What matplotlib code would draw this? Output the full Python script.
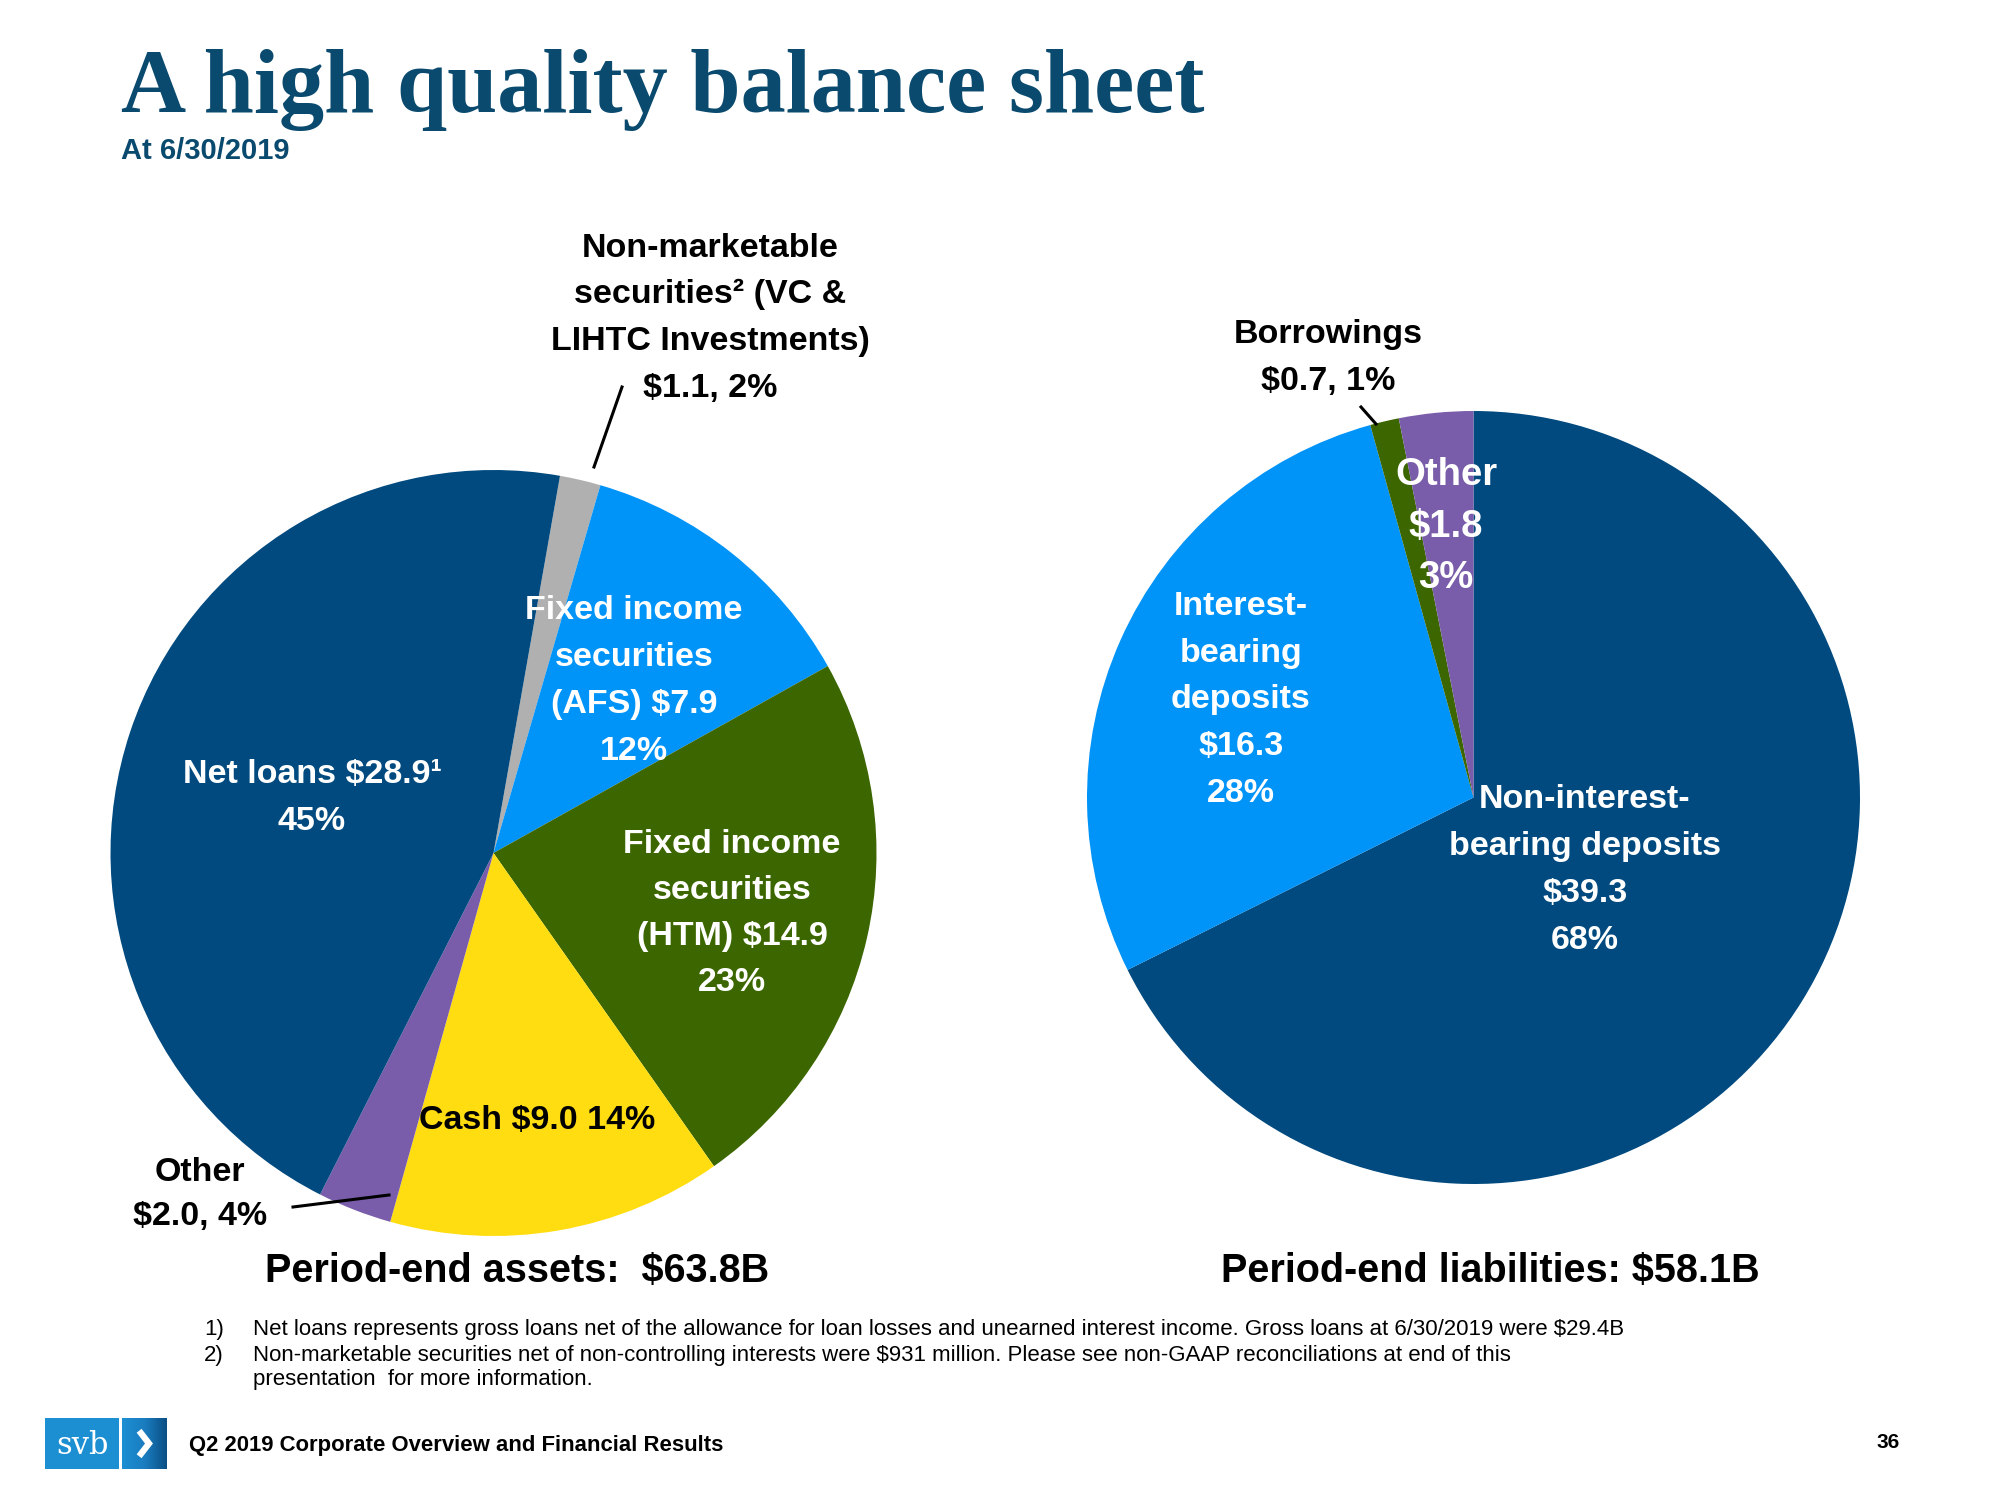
import matplotlib
matplotlib.use("Agg")
import matplotlib.pyplot as plt
import numpy as np
from matplotlib.patches import Rectangle
from matplotlib.lines import Line2D
from matplotlib.colors import LinearSegmentedColormap

# ---------------- data ----------------
asset_categories = ["Non-marketable securities", "Fixed income securities (AFS)",
                    "Fixed income securities (HTM)", "Cash", "Other", "Net loans"]
asset_values = [1.1, 7.9, 14.9, 9.0, 2.0, 28.9]
asset_pcts = ["2%", "12%", "23%", "14%", "4%", "45%"]
asset_total = 63.8

liab_categories = ["Non-interest-bearing deposits", "Interest-bearing deposits",
                   "Borrowings", "Other"]
liab_values = [39.3, 16.3, 0.7, 1.8]
liab_pcts = ["68%", "28%", "1%", "3%"]
liab_total = 58.1

NAVY = "#004A7F"
LBLUE = "#0093F8"
OLIVE = "#3C6600"
YELLOW = "#FFDD11"
PURPLE = "#7A5DAA"
GREY = "#B0B0B0"
TITLE_C = "#0A4A6E"

asset_colors = [GREY, LBLUE, OLIVE, YELLOW, PURPLE, NAVY]
liab_colors = [NAVY, LBLUE, OLIVE, PURPLE]

LABEL_FONT = ["Liberation Sans", "DejaVu Sans"]

W, H = 2000, 1500
fig = plt.figure(figsize=(20, 15), dpi=100)
fig.patch.set_facecolor("white")


def fx(x):
    return x / W


def fy(y):
    return 1 - y / H


def add_pie_axes(cx, cy, r):
    return fig.add_axes([fx(cx - r), fy(cy + r), 2 * r / W, 2 * r / H])


# ---------------- pies ----------------
axL = add_pie_axes(493.5, 853, 383)
axL.pie(asset_values, colors=asset_colors, startangle=80, counterclock=False,
        radius=1, wedgeprops=dict(linewidth=0))
axL.set_xlim(-1, 1); axL.set_ylim(-1, 1); axL.set_aspect("equal"); axL.axis("off")

axR = add_pie_axes(1473.5, 797.5, 386.5)
axR.pie(liab_values, colors=liab_colors, startangle=90, counterclock=False,
        radius=1, wedgeprops=dict(linewidth=0))
axR.set_xlim(-1, 1); axR.set_ylim(-1, 1); axR.set_aspect("equal"); axR.axis("off")


def money(v):
    return f"${v:.1f}"


def label(xc, baselines, texts, size=24.5, color="black", family=LABEL_FONT):
    for yb, t in zip(baselines, texts):
        fig.text(fx(xc), fy(yb), t, ha="center", va="baseline", fontsize=size,
                 color=color, fontweight="bold", family=family)


def leader(x1, y1, x2, y2):
    fig.add_artist(Line2D([fx(x1), fx(x2)], [fy(y1), fy(y2)],
                          transform=fig.transFigure, color="black", lw=2.2))


# ---- asset labels ----
label(710, [257, 303, 350, 397],
      ["Non-marketable", "securities\u00b2 (VC &", "LIHTC Investments)",
       f"{money(asset_values[0])}, {asset_pcts[0]}"])
leader(622, 387, 594, 467)

label(634, [619, 666, 713, 760],
      ["Fixed income", "securities", f"(AFS) {money(asset_values[1])}", asset_pcts[1]],
      color="white")
label(732, [853, 899, 945, 991],
      ["Fixed income", "securities", f"(HTM) {money(asset_values[2])}", asset_pcts[2]],
      color="white")
label(537, [1129], [f"Cash {money(asset_values[3])} {asset_pcts[3]}"])
label(200, [1181, 1225], ["Other", f"{money(asset_values[4])}, {asset_pcts[4]}"])
leader(293, 1207, 389, 1195)
label(312, [783, 830], [f"Net loans {money(asset_values[5])}\u00b9", asset_pcts[5]],
      color="white")

fig.text(fx(517), fy(1282), f"Period-end assets:  ${asset_total:.1f}B", ha="center",
         va="baseline", fontsize=28.5, fontweight="bold", family=LABEL_FONT, color="black")

# ---- liability labels ----
label(1328, [343, 390], ["Borrowings", f"{money(liab_values[2])}, {liab_pcts[2]}"])
leader(1361, 407, 1376, 424)
label(1446, [485, 537, 588], ["Other", money(liab_values[3]), liab_pcts[3]],
      size=27.5, color="white")
label(1241, [615, 662, 708, 755, 802],
      ["Interest-", "bearing", "deposits", money(liab_values[1]), liab_pcts[1]],
      color="white")
label(1585, [808, 855, 902, 949],
      ["Non-interest-", "bearing deposits", money(liab_values[0]), liab_pcts[0]],
      color="white")

fig.text(fx(1490), fy(1282), f"Period-end liabilities: ${liab_total:.1f}B", ha="center",
         va="baseline", fontsize=28.5, fontweight="bold", family=LABEL_FONT, color="black")

# ---------------- title ----------------
fig.text(fx(121), fy(112), "A high quality balance sheet", ha="left", va="baseline",
         fontsize=65, fontweight="bold", family=["Liberation Serif", "DejaVu Serif"],
         color=TITLE_C)
fig.text(fx(121), fy(159), "At 6/30/2019", ha="left", va="baseline",
         fontsize=21, fontweight="bold", family=LABEL_FONT, color=TITLE_C)

# ---------------- footnotes ----------------
foot = [
    ("1)", "Net loans represents gross loans net of the allowance for loan losses and unearned interest income. Gross loans at 6/30/2019 were $29.4B", 1330),
    ("2)", "Non-marketable securities net of non-controlling interests were $931 million. Please see non-GAAP reconciliations at end of this", 1356),
    ("", "presentation  for more information.", 1379),
]
for num, txt, yc in foot:
    if num:
        fig.text(fx(204), fy(yc), num, ha="left", va="center", fontsize=16,
                 family=LABEL_FONT, color="black")
    fig.text(fx(253), fy(yc), txt, ha="left", va="center", fontsize=16,
             family=LABEL_FONT, color="black")

# ---------------- footer ----------------
fig.add_artist(Rectangle((fx(45), fy(1469)), 74 / W, 51 / H, transform=fig.transFigure,
                         facecolor="#1C8FD3", edgecolor="none"))
gax = fig.add_axes([fx(122), fy(1469), 45 / W, 51 / H])
grad = np.linspace(0, 1, 64)[None, :]
cmap = LinearSegmentedColormap.from_list("svb", ["#1C8FD3", "#1A7DC0", "#0B4F85"])
gax.imshow(grad, aspect="auto", cmap=cmap, extent=[0, 1, 0, 1])
gax.plot([0.38, 0.6, 0.38], [0.75, 0.5, 0.25], color="white", lw=4.5,
         solid_capstyle="butt", solid_joinstyle="miter")
gax.set_xlim(0, 1); gax.set_ylim(0, 1); gax.axis("off")
fig.text(fx(82), fy(1446), "svb", ha="center", va="center", fontsize=22,
         family=["DejaVu Serif"], color="white")

fig.text(fx(189), fy(1445), "Q2 2019 Corporate Overview and Financial Results", ha="left",
         va="center", fontsize=15.9, fontweight="bold", family=LABEL_FONT, color="black")
fig.text(fx(1900), fy(1443), "36", ha="right", va="center", fontsize=15,
         fontweight="bold", family=LABEL_FONT, color="black")

fig.savefig("out.png", dpi=100, facecolor="white")
